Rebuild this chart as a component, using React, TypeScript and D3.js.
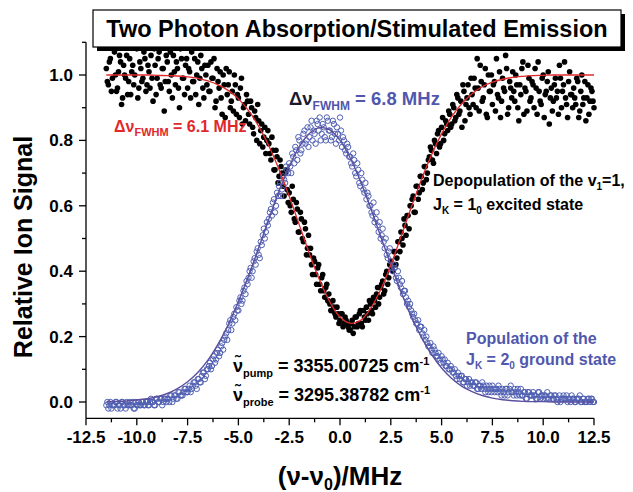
import React from "react";
import * as d3 from "d3";

// ---------- data ----------
const xStart = -11.5; // first scan starts here
const xStart2 = -11.45; // second scan, interleaved
const xStep = 0.1;

// Depopulation signal (black dots), scan 1: x = -11.5 ... 12.5 step 0.1
const depopulation: number[] = [
  1.02, 0.97, 1.05, 0.99, 1.07, 0.95, 1.01, 1.04, 0.93, 1.0,
  1.06, 0.98, 0.94, 1.03, 1.0, 1.08, 0.96, 1.02, 0.99, 1.05,
  0.97, 1.01, 1.06, 0.92, 1.03, 0.99, 1.07, 0.96, 1.02, 0.98,
  1.04, 0.95, 1.0, 1.06, 0.97, 1.02, 0.9, 1.05, 0.99, 1.03,
  0.96, 1.01, 1.07, 0.98, 0.94, 1.04, 0.99, 1.02, 0.93, 1.0,
  1.03, 0.95, 0.99, 1.05, 0.92, 0.98, 1.01, 0.88, 0.97, 1.02,
  0.97, 0.9, 0.95, 1.0, 0.88, 0.93, 0.96, 0.85, 0.91, 0.94,
  0.88, 0.92, 0.84, 0.89, 0.8, 0.86, 0.83, 0.78, 0.84, 0.8,
  0.79, 0.74, 0.77, 0.71, 0.75, 0.69, 0.72, 0.66, 0.7, 0.65,
  0.64, 0.58, 0.62, 0.55, 0.59, 0.52, 0.56, 0.49, 0.53, 0.47,
  0.45, 0.42, 0.44, 0.39, 0.41, 0.36, 0.38, 0.34, 0.35, 0.31,
  0.3, 0.28, 0.29, 0.26, 0.27, 0.25, 0.27, 0.24, 0.25, 0.23,
  0.22, 0.25, 0.23, 0.26, 0.24, 0.28, 0.23, 0.26, 0.29, 0.25,
  0.3, 0.27, 0.31, 0.33, 0.3, 0.35, 0.37, 0.34, 0.4, 0.38,
  0.43, 0.4, 0.46, 0.44, 0.49, 0.52, 0.48, 0.54, 0.57, 0.53,
  0.6, 0.63, 0.58, 0.66, 0.64, 0.69, 0.67, 0.72, 0.7, 0.75,
  0.77, 0.73, 0.79, 0.82, 0.78, 0.84, 0.8, 0.86, 0.83, 0.88,
  0.85, 0.9, 0.87, 0.93, 0.89, 0.84, 0.95, 0.91, 0.97, 0.88,
  0.94, 0.99, 0.9, 0.96, 1.03, 0.92, 0.97, 0.88, 1.0, 0.95,
  0.91, 0.98, 1.05, 0.93, 0.87, 0.99, 0.95, 1.02, 0.9, 0.96,
  1.01, 0.92, 0.97, 0.86, 0.94, 1.04, 0.96, 0.89, 0.99, 0.93,
  0.97, 1.02, 0.88, 0.95, 0.91, 1.0, 0.94, 0.98, 0.85, 0.96,
  0.92, 0.99, 0.95, 1.03, 0.9, 0.97, 0.93, 0.87, 1.01, 0.94,
  0.96, 0.91, 0.98, 0.89, 1.0, 0.93, 0.86, 0.97, 0.92, 0.95,
  0.9,
];

// Depopulation signal (black dots), scan 2: x = -11.45 ... 12.45 step 0.1
const depopulation2: number[] = [
  0.98, 1.04, 0.95, 1.08, 1.0, 0.96, 1.06, 0.91, 1.03, 0.99,
  0.94, 1.05, 1.01, 0.97, 1.09, 0.93, 1.04, 0.98, 1.07, 0.95,
  1.03, 0.96, 0.99, 1.08, 0.94, 1.05, 0.97, 1.02, 0.89, 1.06,
  0.98, 1.07, 0.93, 1.01, 1.04, 0.96, 1.08, 0.99, 0.94, 1.05,
  1.02, 0.93, 0.98, 1.05, 1.0, 0.91, 1.06, 0.96, 1.03, 0.97,
  0.95, 1.04, 0.99, 0.9, 1.02, 0.96, 0.93, 1.0, 0.87, 0.94,
  1.01, 0.92, 0.89, 0.97, 0.94, 0.87, 0.99, 0.9, 0.86, 0.92,
  0.85, 0.9, 0.82, 0.87, 0.91, 0.79, 0.85, 0.81, 0.76, 0.83,
  0.76, 0.81, 0.71, 0.77, 0.67, 0.74, 0.7, 0.63, 0.71, 0.61,
  0.6, 0.66, 0.56, 0.61, 0.52, 0.58, 0.5, 0.55, 0.45, 0.51,
  0.47, 0.39, 0.43, 0.36, 0.42, 0.34, 0.39, 0.32, 0.36, 0.33,
  0.28, 0.31, 0.27, 0.29, 0.24, 0.27, 0.23, 0.26, 0.24, 0.22,
  0.24, 0.21, 0.26, 0.23, 0.27, 0.24, 0.28, 0.25, 0.27, 0.31,
  0.28, 0.32, 0.29, 0.35, 0.32, 0.36, 0.33, 0.39, 0.36, 0.42,
  0.41, 0.46, 0.42, 0.49, 0.46, 0.5, 0.56, 0.51, 0.57, 0.6,
  0.62, 0.58, 0.66, 0.62, 0.69, 0.65, 0.72, 0.68, 0.74, 0.78,
  0.74, 0.8, 0.76, 0.83, 0.79, 0.87, 0.82, 0.85, 0.89, 0.84,
  0.91, 0.86, 0.94, 0.88, 0.92, 0.97, 0.86, 0.93, 0.9, 0.99,
  0.91, 0.96, 1.05, 0.89, 0.98, 0.93, 1.02, 0.87, 0.95, 1.0,
  0.97, 0.89, 0.94, 1.01, 0.92, 0.96, 1.06, 0.88, 0.98, 0.93,
  0.95, 1.0, 0.9, 0.97, 1.02, 0.88, 0.95, 1.03, 0.92, 0.98,
  0.9, 0.96, 1.04, 0.92, 0.99, 0.87, 0.95, 1.01, 0.93, 0.89,
  0.97, 0.93, 0.88, 0.99, 0.95, 1.04, 0.91, 0.98, 0.94, 0.9,
  0.93, 0.99, 0.87, 0.95, 0.91, 0.98, 0.93, 0.88, 0.96, 0.92,
];

// Population signal (blue open circles), scan 1: x = -11.5 ... 12.5 step 0.1
const population: number[] = [
  -0.01, -0.02, 0.0, -0.01, -0.01, 0.0, -0.01, -0.02, 0.0, -0.01,
  0.0, -0.01, -0.01, 0.0, -0.02, -0.01, 0.0, -0.01, 0.0, -0.01,
  0.0, -0.01, 0.01, 0.0, -0.01, 0.01, 0.0, 0.01, 0.0, 0.01,
  0.01, 0.0, 0.02, 0.01, 0.02, 0.01, 0.03, 0.02, 0.03, 0.04,
  0.03, 0.05, 0.04, 0.06, 0.05, 0.07, 0.06, 0.08, 0.09, 0.08,
  0.1, 0.12, 0.11, 0.14, 0.13, 0.16, 0.15, 0.18, 0.19, 0.21,
  0.22, 0.25, 0.24, 0.27, 0.29, 0.28, 0.32, 0.31, 0.35, 0.37,
  0.38, 0.41, 0.4, 0.44, 0.46, 0.45, 0.49, 0.51, 0.5, 0.55,
  0.56, 0.59, 0.61, 0.58, 0.64, 0.66, 0.63, 0.69, 0.67, 0.71,
  0.73, 0.7, 0.75, 0.78, 0.74, 0.8, 0.77, 0.82, 0.79, 0.84,
  0.81, 0.86, 0.83, 0.79, 0.85, 0.87, 0.82, 0.84, 0.8, 0.86,
  0.83, 0.81, 0.85, 0.79, 0.82, 0.87, 0.78, 0.8, 0.76, 0.78,
  0.75, 0.72, 0.74, 0.69, 0.71, 0.66, 0.68, 0.64, 0.62, 0.63,
  0.6, 0.57, 0.55, 0.58, 0.52, 0.5, 0.53, 0.47, 0.45, 0.46,
  0.43, 0.4, 0.41, 0.37, 0.38, 0.35, 0.33, 0.34, 0.3, 0.29,
  0.28, 0.26, 0.25, 0.24, 0.22, 0.23, 0.2, 0.19, 0.18, 0.17,
  0.16, 0.17, 0.15, 0.14, 0.13, 0.14, 0.12, 0.11, 0.12, 0.1,
  0.1, 0.09, 0.08, 0.09, 0.07, 0.08, 0.06, 0.07, 0.06, 0.05,
  0.06, 0.05, 0.06, 0.04, 0.05, 0.06, 0.04, 0.05, 0.03, 0.04,
  0.05, 0.03, 0.04, 0.05, 0.03, 0.04, 0.02, 0.04, 0.03, 0.05,
  0.03, 0.04, 0.02, 0.03, 0.04, 0.02, 0.03, 0.01, 0.03, 0.02,
  0.03, 0.02, 0.01, 0.03, 0.02, 0.01, 0.02, 0.03, 0.01, 0.02,
  0.01, 0.02, 0.0, 0.02, 0.01, 0.02, 0.01, 0.0, 0.01, 0.02,
  0.01, 0.0, 0.01, 0.02, 0.0, 0.01, 0.0, 0.01, 0.0, 0.01,
  0.0,
];

// Population signal (blue open circles), scan 2: x = -11.45 ... 12.45 step 0.1
const population2: number[] = [
  0.0, -0.01, -0.02, -0.01, 0.0, -0.02, -0.01, 0.0, -0.01, -0.02,
  -0.01, 0.0, -0.01, -0.02, 0.0, -0.01, -0.01, 0.0, -0.01, 0.0,
  -0.01, 0.0, 0.0, -0.01, 0.01, 0.0, 0.01, -0.01, 0.01, 0.0,
  0.01, 0.02, 0.0, 0.02, 0.01, 0.03, 0.02, 0.02, 0.04, 0.03,
  0.04, 0.03, 0.05, 0.06, 0.04, 0.07, 0.06, 0.09, 0.07, 0.1,
  0.11, 0.1, 0.13, 0.12, 0.15, 0.14, 0.17, 0.16, 0.2, 0.19,
  0.24, 0.22, 0.26, 0.25, 0.28, 0.31, 0.3, 0.34, 0.33, 0.36,
  0.4, 0.38, 0.43, 0.42, 0.47, 0.44, 0.48, 0.53, 0.52, 0.54,
  0.58, 0.57, 0.62, 0.6, 0.63, 0.67, 0.65, 0.68, 0.72, 0.7,
  0.72, 0.76, 0.73, 0.77, 0.81, 0.76, 0.79, 0.83, 0.8, 0.78,
  0.84, 0.8, 0.82, 0.86, 0.83, 0.8, 0.85, 0.81, 0.87, 0.83,
  0.8, 0.86, 0.82, 0.84, 0.8, 0.83, 0.81, 0.77, 0.79, 0.75,
  0.73, 0.76, 0.7, 0.73, 0.67, 0.7, 0.65, 0.67, 0.64, 0.6,
  0.58, 0.61, 0.56, 0.54, 0.55, 0.51, 0.49, 0.5, 0.44, 0.47,
  0.41, 0.42, 0.38, 0.4, 0.36, 0.37, 0.34, 0.32, 0.31, 0.3,
  0.27, 0.27, 0.24, 0.25, 0.23, 0.21, 0.22, 0.2, 0.17, 0.18,
  0.15, 0.16, 0.14, 0.15, 0.12, 0.13, 0.13, 0.11, 0.1, 0.11,
  0.09, 0.1, 0.07, 0.08, 0.08, 0.06, 0.07, 0.05, 0.07, 0.06,
  0.05, 0.06, 0.04, 0.05, 0.04, 0.05, 0.03, 0.04, 0.05, 0.03,
  0.04, 0.04, 0.03, 0.04, 0.02, 0.03, 0.04, 0.02, 0.04, 0.03,
  0.02, 0.03, 0.04, 0.02, 0.02, 0.03, 0.01, 0.03, 0.02, 0.02,
  0.02, 0.01, 0.03, 0.01, 0.02, 0.02, 0.01, 0.01, 0.02, 0.01,
  0.02, 0.01, 0.01, 0.0, 0.01, 0.01, 0.02, 0.01, 0.0, 0.01,
  0.0, 0.01, 0.01, 0.0, 0.01, 0.0, 0.0, 0.01, 0.01, 0.0,
];

// Fit curves, x = -11.5 ... 12.5 step 0.5
const fitStep = 0.5;
const depopulationFit: number[] = [
  1.0, 1.0, 1.0, 1.0, 1.0, 0.999, 0.998, 0.997, 0.994, 0.99,
  0.982, 0.97, 0.953, 0.927, 0.891, 0.843, 0.783, 0.711, 0.629, 0.541,
  0.453, 0.372, 0.306, 0.26, 0.241, 0.249, 0.285, 0.343, 0.419, 0.505,
  0.594, 0.679, 0.755, 0.82, 0.873, 0.913, 0.943, 0.964, 0.978, 0.987,
  0.993, 0.996, 0.998, 0.999, 1.0, 1.0, 1.0, 1.0, 1.0,
];
const populationFit: number[] = [
  0.001, 0.002, 0.003, 0.006, 0.01, 0.016, 0.026, 0.041, 0.062, 0.09,
  0.128, 0.177, 0.236, 0.307, 0.386, 0.472, 0.56, 0.645, 0.72, 0.781,
  0.822, 0.839, 0.832, 0.8, 0.747, 0.676, 0.595, 0.507, 0.42, 0.337,
  0.263, 0.199, 0.146, 0.104, 0.072, 0.048, 0.032, 0.02, 0.012, 0.007,
  0.004, 0.002, 0.001, 0.001, 0.0, 0.0, 0.0, 0.0, 0.0,
];

const xTicks = [-12.5, -10, -7.5, -5, -2.5, 0, 2.5, 5, 7.5, 10, 12.5];
const yTicks = [0, 0.2, 0.4, 0.6, 0.8, 1.0];

// ---------- layout ----------
const W = 633;
const H = 492;
const FONT = "'Liberation Sans', Arial, Helvetica, sans-serif";
const RED = "#e0282c";
const DOT_BLUE = "#4f5fb3";
const LINE_BLUE = "#5b4f9e";
const TEXT_BLUE = "#5057ad";

const x = d3.scaleLinear().domain([-12.5, 12.5]).range([86, 594]);
const y = d3.scaleLinear().domain([0, 1]).range([402, 75]);
const yMin = -0.05;
const yMax = 1.1;

export default function App() {
  const line = d3
    .line<number>()
    .x((_, i) => x(xStart + i * fitStep))
    .y((d) => y(d))
    .curve(d3.curveCatmullRom);

  const minorX = d3.range(-12.5, 12.5 + 1e-9, 1.25);
  const minorY = d3.range(0, 1.1 + 1e-9, 0.1);

  const axisY0 = y(yMin);
  const x0 = x(-12.5);

  const blackPts = [
    ...depopulation.map((v, i) => [xStart + i * xStep, v]),
    ...depopulation2.map((v, i) => [xStart2 + i * xStep, v]),
  ];
  const bluePts = [
    ...population.map((v, i) => [xStart + i * xStep, v]),
    ...population2.map((v, i) => [xStart2 + i * xStep, v]),
  ];

  return (
    <svg
      width={W}
      height={H}
      style={{ position: "absolute", left: 0, top: 0, background: "#fff" }}
      fontFamily={FONT}
    >
      <rect x={0} y={0} width={W} height={H} fill="#fff" />

      <g>
        {blackPts.map((p, i) => (
          <circle key={"b" + i} cx={x(p[0])} cy={y(p[1])} r={2.8} fill="#000" />
        ))}
      </g>
      <g>
        {bluePts.map((p, i) => (
          <circle
            key={"p" + i}
            cx={x(p[0])}
            cy={y(p[1])}
            r={2.7}
            fill="none"
            stroke={DOT_BLUE}
            strokeWidth={1}
          />
        ))}
      </g>
      <path d={line(populationFit) || ""} fill="none" stroke={LINE_BLUE} strokeWidth={1.4} />
      <path d={line(depopulationFit) || ""} fill="none" stroke={RED} strokeWidth={1.3} />

      {/* axes */}
      <g stroke="#000" strokeWidth={1.3}>
        <line x1={x0} x2={x0} y1={y(yMax)} y2={axisY0} />
        <line x1={x0} x2={x(12.5)} y1={axisY0} y2={axisY0} />
        {minorX.map((t, i) => (
          <line key={"mx" + i} x1={x(t)} x2={x(t)} y1={axisY0} y2={axisY0 + (i % 2 === 0 ? 7 : 4)} />
        ))}
        {minorY.map((t, i) => (
          <line key={"my" + i} x1={x0} x2={x0 - (i % 2 === 0 ? 7 : 4)} y1={y(t)} y2={y(t)} />
        ))}
      </g>
      <g fontWeight="bold" fontSize={17} fill="#000">
        {xTicks.map((t) => (
          <text key={"xt" + t} x={x(t)} y={443} textAnchor="middle">
            {t.toFixed(1)}
          </text>
        ))}
        {yTicks.map((t) => (
          <text key={"yt" + t} x={73} y={y(t) + 6} textAnchor="end">
            {t.toFixed(1)}
          </text>
        ))}
      </g>

      {/* axis titles */}
      <text
        transform="translate(32,247) rotate(-90)"
        textAnchor="middle"
        fontWeight="bold"
        fontSize={25}
      >
        Relative Ion Signal
      </text>
      <text x={340} y={485} textAnchor="middle" fontWeight="bold" fontSize={26}>
        (ν-ν<tspan fontSize={16} dy={5}>0</tspan>
        <tspan dy={-5}>)/MHz</tspan>
      </text>

      {/* annotations */}
      <text x={114} y={132} fontWeight="bold" fontSize={16} fill={RED}>
        Δν<tspan fontSize={11} dy={4}>FWHM</tspan>
        <tspan dy={-4}> = 6.1 MHz</tspan>
      </text>
      <text x={289} y={105} fontWeight="bold" fontSize={18.5} fill={TEXT_BLUE}>
        <tspan fill="#1a1a2e">Δν</tspan>
        <tspan fontSize={12} dy={5}>FWHM</tspan>
        <tspan dy={-5}> = 6.8 MHz</tspan>
      </text>
      <text x={433} y={186} fontWeight="bold" fontSize={16} fill="#000">
        Depopulation of the v<tspan fontSize={10} dy={4}>1</tspan>
        <tspan dy={-4}>=1,</tspan>
      </text>
      <text x={433} y={210} fontWeight="bold" fontSize={16} fill="#000">
        J<tspan fontSize={10} dy={4}>K</tspan>
        <tspan dy={-4}> = 1</tspan>
        <tspan fontSize={10} dy={4}>0</tspan>
        <tspan dy={-4}> excited state</tspan>
      </text>
      <text x={466} y={344} fontWeight="bold" fontSize={16} fill={TEXT_BLUE}>
        Population of the
      </text>
      <text x={466} y={365} fontWeight="bold" fontSize={16} fill={TEXT_BLUE}>
        J<tspan fontSize={10} dy={4}>K</tspan>
        <tspan dy={-4}> = 2</tspan>
        <tspan fontSize={10} dy={4}>0</tspan>
        <tspan dy={-4}> ground state</tspan>
      </text>
      <text x={233} y={372} fontWeight="bold" fontSize={18} fill="#000">
        ν̃<tspan fontSize={11} dy={5}>pump</tspan>
        <tspan dy={-5}> = 3355.00725 cm</tspan>
        <tspan fontSize={11} dy={-7}>-1</tspan>
      </text>
      <text x={233} y={401} fontWeight="bold" fontSize={18} fill="#000">
        ν̃<tspan fontSize={11} dy={5}>probe</tspan>
        <tspan dy={-5}> = 3295.38782 cm</tspan>
        <tspan fontSize={11} dy={-7}>-1</tspan>
      </text>

      {/* title box */}
      <rect x={97} y={14} width={528} height={37} fill="#000" />
      <rect x={93} y={10} width={528} height={37} fill="#fff" stroke="#000" strokeWidth={1.2} />
      <text x={357} y={37} textAnchor="middle" fontWeight="bold" fontSize={23.5}>
        Two Photon Absorption/Stimulated Emission
      </text>
    </svg>
  );
}
